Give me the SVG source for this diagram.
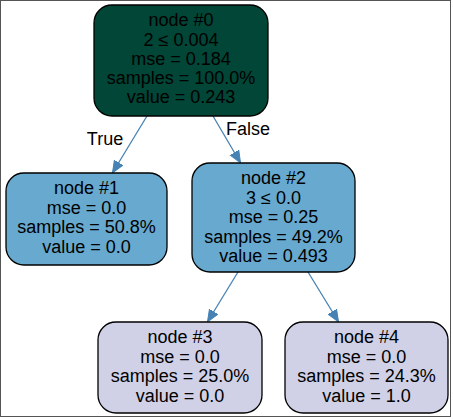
<svg xmlns="http://www.w3.org/2000/svg" width="453" height="419" viewBox="0 0 453 419">
<style>
.n{stroke:#000;stroke-width:1.3}
.t{font-family:"Liberation Sans",Arial,sans-serif;font-size:18px;fill:#000;text-anchor:middle}
.e{stroke:#4682b4;stroke-width:1.3;fill:none}
</style>
<defs>
<marker id="a" markerWidth="12" markerHeight="12" refX="11" refY="6" orient="auto" markerUnits="userSpaceOnUse" viewBox="0 0 12 12">
<path d="M0,1 L12,6 L0,11 Z" fill="#4682b4" stroke="#4682b4"/>
</marker>
</defs>
<rect x="0.5" y="0.5" width="450" height="416" fill="#fff" stroke="#555"/>
<g id="edges">
<line class="e" x1="147" y1="116" x2="113" y2="172" marker-end="url(#a)"/>
<line class="e" x1="213" y1="116" x2="240" y2="162" marker-end="url(#a)"/>
<line class="e" x1="238" y1="272" x2="208" y2="321" marker-end="url(#a)"/>
<line class="e" x1="308" y1="272" x2="338" y2="321" marker-end="url(#a)"/>
<text class="t" x="105" y="145">True</text>
<text class="t" x="248" y="135">False</text>
</g>
<g id="node0">
<rect class="n" x="94" y="5" width="174" height="111" rx="18" fill="#014636"/>
<text class="t" x="181" y="26">node #0</text>
<text class="t" x="181" y="45.5">2 ≤ 0.004</text>
<text class="t" x="181" y="65">mse = 0.184</text>
<text class="t" x="181" y="84">samples = 100.0%</text>
<text class="t" x="181" y="103">value = 0.243</text>
</g>
<g id="node1">
<rect class="n" x="6" y="173" width="161" height="92" rx="18" fill="#67a9cf"/>
<text class="t" x="86.5" y="194">node #1</text>
<text class="t" x="86.5" y="213.5">mse = 0.0</text>
<text class="t" x="86.5" y="233">samples = 50.8%</text>
<text class="t" x="86.5" y="252.5">value = 0.0</text>
</g>
<g id="node2">
<rect class="n" x="192" y="163" width="163" height="109" rx="18" fill="#67a9cf"/>
<text class="t" x="273.5" y="184">node #2</text>
<text class="t" x="273.5" y="203.5">3 ≤ 0.0</text>
<text class="t" x="273.5" y="223">mse = 0.25</text>
<text class="t" x="273.5" y="242.5">samples = 49.2%</text>
<text class="t" x="273.5" y="262">value = 0.493</text>
</g>
<g id="node3">
<rect class="n" x="98" y="322" width="164" height="91" rx="18" fill="#d0d1e6"/>
<text class="t" x="180" y="343">node #3</text>
<text class="t" x="180" y="362.5">mse = 0.0</text>
<text class="t" x="180" y="382">samples = 25.0%</text>
<text class="t" x="180" y="401.5">value = 0.0</text>
</g>
<g id="node4">
<rect class="n" x="285" y="322" width="163" height="91" rx="18" fill="#d0d1e6"/>
<text class="t" x="366.5" y="343">node #4</text>
<text class="t" x="366.5" y="362.5">mse = 0.0</text>
<text class="t" x="366.5" y="382">samples = 24.3%</text>
<text class="t" x="366.5" y="401.5">value = 1.0</text>
</g>
</svg>
